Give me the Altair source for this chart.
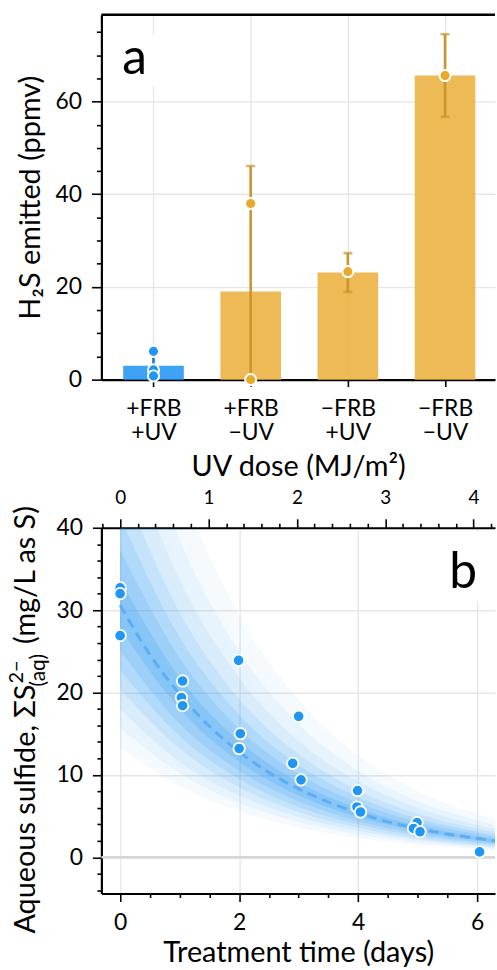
import json
import altair as alt
import pandas as pd

# ---------------- Panel a data ----------------
cat_labels = ["+FRB|+UV", "+FRB|−UV", "−FRB|+UV", "−FRB|−UV"]
cat_pos = [0, 1, 2, 3]
bar_mean = [3.0, 19.0, 23.1, 65.6]
bar_err_lo = [0.2, -8.0, 18.9, 56.7]
bar_err_hi = [5.8, 46.1, 27.3, 74.5]
bar_group = ["uv", "other", "other", "other"]
pt_pos = [0, 0, 0, 1, 1, 2, 3]
pt_val = [6.1, 2.1, 0.8, 38.0, 0.0, 23.3, 65.6]
pt_group = ["uv", "uv", "uv", "other", "other", "other", "other"]

# ---------------- Panel b data ----------------
t_obs = [0.0, 0.0, 0.0, 1.05, 1.03, 1.05, 1.99, 2.02, 2.0, 2.9, 3.0, 3.04,
         3.99, 3.98, 4.04, 4.99, 4.93, 5.04, 6.04]
s_obs = [32.7, 32.0, 26.9, 21.4, 19.4, 18.4, 23.9, 15.0, 13.2, 11.4, 17.1, 9.4,
         8.1, 6.1, 5.5, 4.2, 3.5, 3.1, 0.65]
fit_t = [0, 0.5, 1, 1.5, 2, 2.5, 3, 3.5, 4, 4.5, 5, 5.5, 6, 6.3]
fit_s = [30.6, 24.6, 19.8, 15.9, 12.8, 10.3, 8.3, 6.7, 5.4, 4.3, 3.5, 2.8, 2.3, 2.0]
band_t = [0, 1, 2, 3, 4, 5, 6, 6.3]
band_hi = [
    [70.4, 45.5, 29.4, 19.1, 12.4, 8.05, 5.3, 4.6],
    [59.7, 38.6, 25.0, 16.2, 10.5, 6.8, 4.5, 3.9],
    [52.0, 33.7, 21.8, 14.1, 9.2, 6.0, 3.9, 3.4],
    [45.9, 29.7, 19.2, 12.5, 8.1, 5.25, 3.45, 3.0],
    [41.3, 26.7, 17.3, 11.2, 7.3, 4.7, 3.1, 2.7],
    [37.3, 24.2, 15.6, 10.1, 6.6, 4.3, 2.8, 2.44],
    [33.7, 21.8, 14.1, 9.1, 5.9, 3.85, 2.5, 2.2],
]
band_lo = [
    [13.3, 8.6, 5.6, 3.6, 2.35, 1.52, 1.0, 0.87],
    [15.7, 10.2, 6.6, 4.3, 2.8, 1.8, 1.2, 1.0],
    [18.0, 11.6, 7.5, 4.9, 3.2, 2.1, 1.35, 1.2],
    [20.4, 13.2, 8.5, 5.5, 3.6, 2.3, 1.5, 1.33],
    [22.7, 14.7, 9.5, 6.1, 4.0, 2.6, 1.7, 1.5],
    [25.1, 16.2, 10.5, 6.8, 4.4, 2.9, 1.9, 1.64],
    [27.8, 18.0, 11.6, 7.5, 4.9, 3.2, 2.1, 1.8],
]
band_alpha = [0.045, 0.06, 0.08, 0.10, 0.12, 0.14, 0.16]
DOSE_PER_DAY = 0.6734  # MJ/m^2 per day (top axis)

BLUE = "#2196F3"
GOLD = "#E9A92B"
BAR_FILL = {"uv": "#2E9BF4", "other": "#EBB446"}
ERR_COL = {"uv": "#1976D2", "other": "#C9952F"}
PT_FILL = {"uv": BLUE, "other": GOLD}
FONT = "Lato"
LABEL_FS = 23
TITLE_FS = 29

W = 396
HA = 367
HB = 368

# ---------------- Panel a ----------------
df_bars = pd.DataFrame({
    "pos": cat_pos, "mean": bar_mean, "lo": bar_err_lo, "hi": bar_err_hi,
    "fill": [BAR_FILL[g] for g in bar_group],
    "ecol": [ERR_COL[g] for g in bar_group],
})
df_pts = pd.DataFrame({"pos": pt_pos, "val": pt_val,
                       "fill": [PT_FILL[g] for g in pt_group]})

xa = alt.Scale(domain=[-0.485, 3.463], nice=False, zero=False)
ya = alt.Scale(domain=[0, 78.7], nice=False, zero=False)
label_expr = "split(" + json.dumps(cat_labels, ensure_ascii=False) + "[datum.value], '|')"
xa_axis = alt.Axis(values=cat_pos, labelExpr=label_expr, title=None, grid=True,
                   tickSize=7, labelPadding=11, labelLineHeight=24)
major_a = "datum.value % 20 === 0"
ya_axis = alt.Axis(values=list(range(0, 80, 5)),
                   labelExpr=f"{major_a} ? datum.label : ''",
                   tickSize={"condition": {"test": major_a, "value": 10}, "value": 5},
                   gridOpacity={"condition": {"test": major_a, "value": 1}, "value": 0},
                   title="H₂S emitted (ppmv)", labelPadding=10, titlePadding=10,
                   labelOverlap=False)

bars = alt.Chart(df_bars).mark_bar(size=61, opacity=0.92).encode(
    x=alt.X("pos:Q", scale=xa, axis=xa_axis),
    y=alt.Y("mean:Q", scale=ya, axis=ya_axis),
    fill=alt.Fill("fill:N", scale=None),
)
err_rule = alt.Chart(df_bars).mark_rule(strokeWidth=2.6, clip=True).encode(
    x=alt.X("pos:Q", scale=xa, axis=xa_axis),
    y=alt.Y("lo:Q", scale=ya, axis=ya_axis), y2="hi:Q",
    stroke=alt.Stroke("ecol:N", scale=None),
)
cap_hi = alt.Chart(df_bars).mark_tick(size=9, thickness=2.6, orient="horizontal", clip=True).encode(
    x=alt.X("pos:Q", scale=xa, axis=xa_axis),
    y=alt.Y("hi:Q", scale=ya, axis=ya_axis),
    color=alt.Color("ecol:N", scale=None),
)
cap_lo = alt.Chart(df_bars).mark_tick(size=9, thickness=2.6, orient="horizontal", clip=True).encode(
    x=alt.X("pos:Q", scale=xa, axis=xa_axis),
    y=alt.Y("lo:Q", scale=ya, axis=ya_axis),
    color=alt.Color("ecol:N", scale=None),
)
pts_a = alt.Chart(df_pts).mark_circle(size=125, stroke="white", strokeWidth=2, opacity=1).encode(
    x=alt.X("pos:Q", scale=xa, axis=xa_axis),
    y=alt.Y("val:Q", scale=ya, axis=ya_axis),
    fill=alt.Fill("fill:N", scale=None),
)
one = pd.DataFrame({"k": [0]})
top_line_a = alt.Chart(one).mark_rule(color="black", strokeWidth=2.5).encode(
    x=alt.value(0), x2=alt.value(W), y=alt.value(0))
box_a = alt.Chart(one).mark_rect(color="white").encode(
    x=alt.value(15), x2=alt.value(57), y=alt.value(20), y2=alt.value(72))
lab_a = alt.Chart(pd.DataFrame({"s": ["a"]})).mark_text(
    font=FONT, fontSize=50, align="left", baseline="alphabetic", color="black").encode(
    x=alt.value(21), y=alt.value(60), text="s:N")

panel_a = alt.layer(bars, err_rule, cap_hi, cap_lo, pts_a, top_line_a, box_a, lab_a).properties(
    width=W, height=HA)

# ---------------- Panel b ----------------
xb = alt.Scale(domain=[-0.315, 6.3], nice=False, zero=False)
yb = alt.Scale(domain=[-4.4, 40], nice=False, zero=False)
major_bx = "datum.value % 2 === 0"
xb_axis = alt.Axis(values=[i * 0.5 for i in range(13)],
                   labelExpr=f"{major_bx} ? format(datum.value, '.0f') : ''",
                   tickSize={"condition": {"test": major_bx, "value": 8}, "value": 4},
                   gridOpacity={"condition": {"test": major_bx, "value": 1}, "value": 0},
                   title="Treatment time (days)", labelPadding=10, titlePadding=4,
                   labelOverlap=False)
major_by = "datum.value % 10 === 0"
yb_axis = alt.Axis(values=list(range(-4, 41, 2)),
                   labelExpr=f"{major_by} ? datum.label : ''",
                   tickSize={"condition": {"test": major_by, "value": 9}, "value": 4.5},
                   gridOpacity={"condition": {"test": major_by, "value": 1}, "value": 0},
                   title=None, labelPadding=10, labelOverlap=False)

band_layers = []
for lo, hi, a in zip(band_lo, band_hi, band_alpha):
    dfb = pd.DataFrame({"t": band_t, "lo": lo, "hi": hi})
    band_layers.append(
        alt.Chart(dfb).mark_area(color=BLUE, opacity=a, interpolate="monotone", clip=True).encode(
            x=alt.X("t:Q", scale=xb, axis=xb_axis),
            y=alt.Y("lo:Q", scale=yb, axis=yb_axis), y2="hi:Q"))

zero_rule = alt.Chart(one).mark_rule(color="#d6d6d6", strokeWidth=2.5).encode(
    y=alt.Y(datum=0, scale=yb, axis=yb_axis))
fit_line = alt.Chart(pd.DataFrame({"t": fit_t, "s": fit_s})).mark_line(
    color="#5BAEF6", strokeWidth=3, strokeDash=[10, 6], interpolate="monotone", clip=True).encode(
    x=alt.X("t:Q", scale=xb, axis=xb_axis), y=alt.Y("s:Q", scale=yb, axis=yb_axis))
pts_b = alt.Chart(pd.DataFrame({"t": t_obs, "s": s_obs})).mark_circle(
    size=132, color=BLUE, stroke="white", strokeWidth=1.8, opacity=1).encode(
    x=alt.X("t:Q", scale=xb, axis=xb_axis), y=alt.Y("s:Q", scale=yb, axis=yb_axis))
box_b = alt.Chart(one).mark_rect(color="white").encode(
    x=alt.value(345), x2=alt.value(390), y=alt.value(4), y2=alt.value(75))
lab_b = alt.Chart(pd.DataFrame({"s": ["b"]})).mark_text(
    font=FONT, fontSize=50, align="right", baseline="alphabetic", color="black").encode(
    x=alt.value(378), y=alt.value(61), text="s:N")

# y title of panel b built from pieces (superscript / subscript)
title_parts = [
    ("Aqueous sulfide, ΣS", TITLE_FS, "right", -66.5, 157.7),
    ("2−", 20, "left", -78.5, 156.7),
    ("(aq)", 21, "left", -56.5, 159.7),
    ("(mg/L as S)", TITLE_FS, "left", -66.5, 117.0),
]
title_layers = []
for txt, fs, al, xx, yy in title_parts:
    title_layers.append(
        alt.Chart(pd.DataFrame({"s": [txt]})).mark_text(
            font=FONT, fontSize=fs, angle=270, align=al, baseline="alphabetic",
            color="black").encode(x=alt.value(xx), y=alt.value(yy), text="s:N"))

inner_b = alt.layer(*band_layers, zero_rule, fit_line, pts_b, box_b, lab_b, *title_layers)

dose_ticks = [round(i * 0.2 - 0.2, 1) for i in range(23)]
major_d = "abs(datum.value - round(datum.value)) < 0.001"
dose_axis = alt.Axis(orient="top", values=dose_ticks,
                     labelExpr=f"{major_d} ? format(datum.value, '.0f') : ''",
                     tickSize={"condition": {"test": major_d, "value": 9}, "value": 4.5},
                     grid=False, title="UV dose (MJ/m²)", labelFontSize=19,
                     labelPadding=11, titlePadding=8, labelOverlap=False)
dose_layer = alt.Chart(pd.DataFrame({"d": [0.0]})).mark_point(opacity=0).encode(
    x=alt.X("d:Q", scale=alt.Scale(domain=[-0.315 * DOSE_PER_DAY, 6.3 * DOSE_PER_DAY],
                                    nice=False, zero=False), axis=dose_axis))

panel_b = alt.layer(inner_b, dose_layer).resolve_scale(x="independent").properties(
    width=W, height=HB)

chart = alt.vconcat(panel_a, panel_b, spacing=8).configure(
    padding={"left": 7, "top": 10, "right": 0, "bottom": 0},
    font=FONT,
).configure_view(stroke=None).configure_axis(
    domainColor="black", domainWidth=2.2, tickColor="black", tickWidth=1.6,
    labelFont=FONT, labelFontSize=LABEL_FS, labelColor="black",
    titleFont=FONT, titleFontSize=TITLE_FS, titleFontWeight="normal", titleColor="black",
    gridColor="#e6e6e6", gridWidth=1.3,
)

chart.save("out.html", embed_options={"renderer": "svg", "actions": False})
